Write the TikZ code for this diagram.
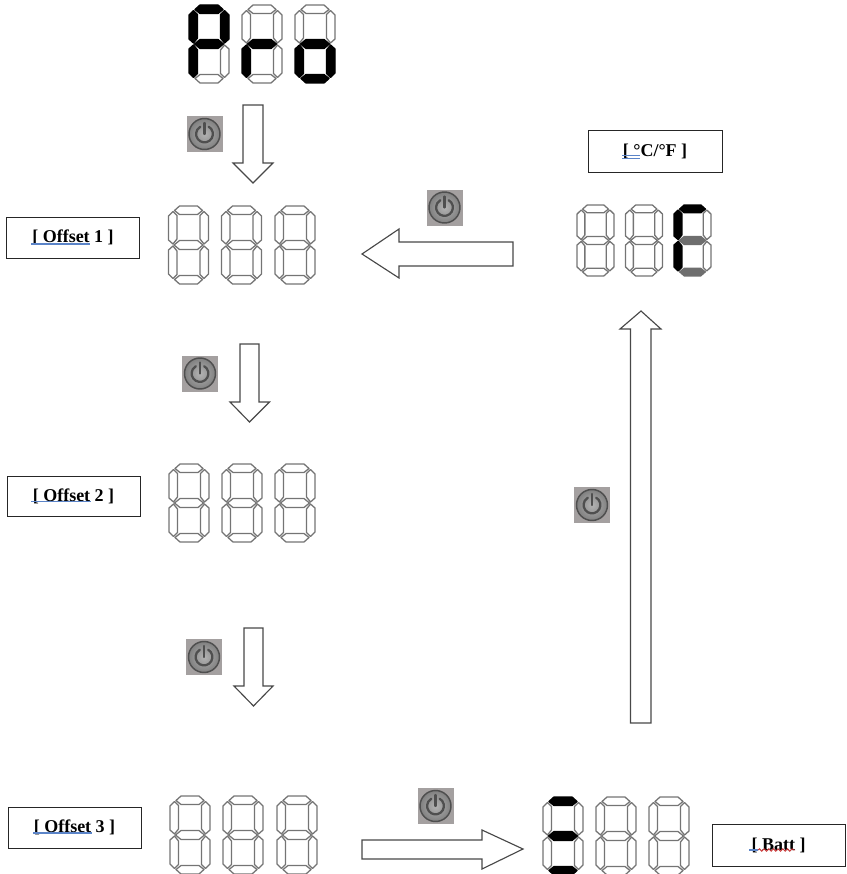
\documentclass[tikz,border=0pt]{standalone}
\usepackage{fontspec}
\setmainfont{Liberation Serif}
\usetikzlibrary{decorations.pathmorphing}
\definecolor{segline}{HTML}{747474}
\definecolor{arrline}{HTML}{484848}
\definecolor{seggrey}{HTML}{6E6E6E}
\definecolor{proofblue}{HTML}{5B84C8}
\definecolor{proofred}{HTML}{C83A3A}
\definecolor{iconbg}{HTML}{A4A0A0}
\definecolor{iconring}{HTML}{4F4F4F}
\definecolor{iconface}{HTML}{A0A0A0}
\tikzset{
  segoff/.style={draw=segline,line width=0.95pt,fill=white,line join=round},
  segblk/.style={draw=black,line width=1pt,fill=black,line join=round},
  seggry/.style={draw=seggrey,line width=0.8pt,fill=seggrey,line join=round},
  blockarrow/.style={draw=arrline,line width=0.85pt,fill=white,line join=miter},
  labelbox/.style={draw=black!85,line width=0.75pt,fill=white,inner sep=0pt,
    font=\fontsize{13.5}{15}\selectfont\bfseries},
  proofline/.style={draw=proofblue,line width=1.1pt},
  powericon/.pic={
    \fill[iconbg] (-18,-18) rectangle (18,18);
    \shade[inner color=iconface!80!white,outer color=iconface!80!black,draw=iconring,line width=1.1pt] (0,0) circle (15.5);
    \draw[iconring,line width=1.7pt,line cap=round] (4.2,-7.3) arc[start angle=-60,end angle=240,radius=8.4];
    \draw[iconring,line width=1.7pt,line cap=round] (0,-11) -- (0,0);
  }
}
\expandafter\def\csname segpath1\endcsname{(11,0)--(29,0)--(34,4.5)--(29,8.5)--(11,8.5)--(6,4.5)--cycle}
\expandafter\def\csname segpath2\endcsname{(0,10)--(4.5,5.5)--(8.5,9.5)--(8.5,33)--(4.5,38)--(0,34)--cycle}
\expandafter\def\csname segpath3\endcsname{(40,10)--(35.5,5.5)--(31.5,9.5)--(31.5,33)--(35.5,38)--(40,34)--cycle}
\expandafter\def\csname segpath4\endcsname{(5.5,39)--(11,34.5)--(29,34.5)--(34.5,39)--(29,43.5)--(11,43.5)--cycle}
\expandafter\def\csname segpath5\endcsname{(0,68)--(4.5,72.5)--(8.5,68.5)--(8.5,45)--(4.5,40)--(0,44)--cycle}
\expandafter\def\csname segpath6\endcsname{(40,68)--(35.5,72.5)--(31.5,68.5)--(31.5,45)--(35.5,40)--(40,44)--cycle}
\expandafter\def\csname segpath7\endcsname{(11,78)--(29,78)--(34,73.5)--(29,69.5)--(11,69.5)--(6,73.5)--cycle}
% x, y, x-scale, y-scale, styles of the seven segments
\newcommand{\sevenseg}[5]{%
  \begin{scope}[shift={(#1,#2)},xscale=#3,yscale=#4]
    \foreach \st [count=\i] in {#5}{%
      \expandafter\let\expandafter\segcur\csname segpath\i\endcsname
      \draw[\st] \segcur;
    }
  \end{scope}}
\newcommand{\blankdigit}[4]{\sevenseg{#1}{#2}{#3}{#4}{segoff,segoff,segoff,segoff,segoff,segoff,segoff}}
\begin{document}
\begin{tikzpicture}[x=0.75pt,y=-0.75pt]
\useasboundingbox (0,0) rectangle (846,874);

% "Pro"
\sevenseg{189}{5}{1}{1}{segblk,segblk,segblk,segblk,segblk,segoff,segoff}
\sevenseg{242}{5}{1}{1}{segoff,segoff,segoff,segblk,segblk,segoff,segoff}
\sevenseg{295}{5}{1}{1}{segoff,segoff,segoff,segblk,segblk,segblk,segblk}

% Offset rows
\foreach \dx in {168.5,221.5,275}{\blankdigit{\dx}{206}{1}{1}}
\foreach \dx in {169,222,275}{\blankdigit{\dx}{464}{1}{1}}
\foreach \dx in {170,223,277}{\blankdigit{\dx}{796}{1}{1}}

% Batt row
\sevenseg{543}{797}{1}{1}{segblk,segoff,segoff,segblk,segoff,segoff,segblk}
\blankdigit{596}{797}{1}{1}
\blankdigit{649}{797}{1}{1}

% C/F row
\blankdigit{577}{205}{0.925}{0.91}
\blankdigit{625.5}{205}{0.925}{0.91}
\sevenseg{674}{205}{0.925}{0.91}{segblk,segblk,segoff,seggry,segblk,segoff,seggry}

% Block arrows
\draw[blockarrow] (243,105)--(263,105)--(263,163)--(273,163)--(253,183)--(233,163)--(243,163)--cycle;
\draw[blockarrow] (240,344)--(259,344)--(259,402)--(269.5,402)--(249.5,422)--(230,402)--(240,402)--cycle;
\draw[blockarrow] (244,628)--(263,628)--(263,686)--(273,686)--(253.5,706)--(234,686)--(244,686)--cycle;
\draw[blockarrow] (513,242)--(399,242)--(399,229)--(362,254)--(399,278)--(399,266)--(513,266)--cycle;
\draw[blockarrow] (362,840)--(482,840)--(482,830)--(523,849)--(482,869)--(482,859)--(362,859)--cycle;
\draw[blockarrow] (630.5,723)--(630.5,329)--(620,329)--(641,311)--(661,329)--(651,329)--(651,723)--cycle;

% Power buttons
\pic at (204.5,134) {powericon};
\pic at (200,373.5) {powericon};
\pic at (204,657) {powericon};
\pic at (444.5,207.5) {powericon};
\pic at (435.5,806) {powericon};
\pic at (592,505) {powericon};

% Label boxes
\node[labelbox,minimum width=99.75pt,minimum height=30.75pt] (boxa) at (73,237.5) {[ Offset 1 ]};
\node[labelbox,minimum width=99.75pt,minimum height=30pt] (boxb) at (73.5,496) {[ Offset 2 ]};
\node[labelbox,minimum width=99.75pt,minimum height=30.75pt] (boxc) at (74.5,827.5) {[ Offset 3 ]};
\node[labelbox,minimum width=100.5pt,minimum height=31.5pt] (boxd) at (655,151) {[ °C/°F ]};
\node[labelbox,minimum width=99.75pt,minimum height=31.5pt] (boxe) at (778.5,845) {[ Batt ]};

% Proofing marks under the label texts
\draw[proofline] (31,244) -- (90,244);
\draw[proofline] (31,501.5) -- (91,501.5);
\draw[proofline] (33,833) -- (92,833);
\draw[proofline,line width=0.6pt] (622,155.5) -- (640,155.5);
\draw[proofline,line width=0.6pt] (622,158) -- (640,158);
\draw[proofline] (749,850) -- (758,850);
\draw[proofred,line width=0.7pt,decorate,decoration={snake,amplitude=0.9,segment length=3.5}] (758,850) -- (795,850);
\end{tikzpicture}
\end{document}
